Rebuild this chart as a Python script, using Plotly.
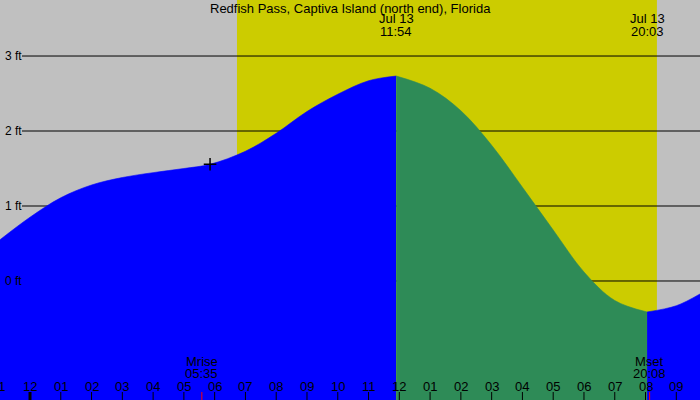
import plotly.graph_objects as go

# ---- data (hours since midnight Jul 13, feet) ----
tide_hours = [-0.975, 0.0, 1.0, 2.0, 3.0, 4.0, 5.0, 5.85, 7.0, 8.0, 9.0, 10.0, 11.0, 11.9,
              13.0, 14.0, 15.0, 16.0, 17.0, 18.0, 19.0, 20.05,
              21.0, 21.77]
tide_feet = [0.55, 0.85, 1.11, 1.28, 1.38, 1.445, 1.50, 1.556, 1.73, 1.97, 2.26, 2.49, 2.67, 2.733,
             2.57, 2.27, 1.81, 1.25, 0.68, 0.12, -0.26, -0.413,
             -0.33, -0.173]
high_tide = (11.9, "Jul 13", "11:54")
low_tide = (20.05, "Jul 13", "20:03")
sunrise, sunset = 6.725, 20.37
moonrise = (5.583, "Mrise", "05:35")
moonset = (20.133, "Mset", "20:08")
marker_pt = (5.85, 1.556)
ft_levels = [0, 1, 2, 3]
ft_labels = ["0 ft", "1 ft", "2 ft", "3 ft"]
hour_ticks = list(range(-1, 22))
hour_labels = ["11", "12", "01", "02", "03", "04", "05", "06", "07", "08", "09", "10", "11",
               "12", "01", "02", "03", "04", "05", "06", "07", "08", "09"]
title = "Redfish Pass, Captiva Island (north end), Florida"

# ---- styling ----
W, H = 700, 400
XMIN, XMAX = -0.975, 21.77
YMIN, YMAX = -1.587, 3.747
GRAY = "#c0c0c0"
YELLOW = "#cccc00"
BLUE = "#0000ff"
GREEN = "#2e8b57"
FONT = "Liberation Sans"

def py(px):  # pixel from top -> paper fraction
    return 1 - px / H

def xpaper(h):
    return (h - XMIN) / (XMAX - XMIN)

fig = go.Figure()

def segment(t0, t1, color):
    xs = [t for t in tide_hours if t0 <= t <= t1]
    ys = [h for t, h in zip(tide_hours, tide_feet) if t0 <= t <= t1]
    fig.add_trace(go.Scatter(x=[xs[0], xs[-1]], y=[YMIN - 0.2, YMIN - 0.2], mode="lines",
                             line=dict(width=0, color=color), hoverinfo="skip", showlegend=False))
    fig.add_trace(go.Scatter(x=xs, y=ys, mode="lines", line=dict(width=0.6, color=color, shape="spline"),
                             fill="tonexty", fillcolor=color, hoverinfo="skip", showlegend=False))

segment(tide_hours[0], high_tide[0], BLUE)
segment(high_tide[0], low_tide[0], GREEN)
segment(low_tide[0], tide_hours[-1], BLUE)

# marker
fig.add_trace(go.Scatter(x=[marker_pt[0]], y=[marker_pt[1]], mode="markers",
                         marker=dict(symbol="cross-thin", size=9, line=dict(width=1.5, color="black")),
                         showlegend=False, hoverinfo="skip"))

shapes = []
# daylight
shapes.append(dict(type="rect", xref="x", yref="paper", x0=sunrise, x1=sunset, y0=0, y1=1,
                   fillcolor=YELLOW, line=dict(width=0), layer="below"))
# level lines
for lv in ft_levels:
    shapes.append(dict(type="line", xref="paper", yref="y", x0=22 / W, x1=1, y0=lv, y1=lv,
                       line=dict(color="black", width=1), layer="below"))
# hour ticks
for h in hour_ticks:
    wide = (h % 24 == 0)
    shapes.append(dict(type="line", xref="x", yref="paper", x0=h, x1=h, y0=0, y1=py(392),
                       line=dict(color="black", width=3 if wide else 1), layer="above"))
for m in (moonrise, moonset):
    shapes.append(dict(type="line", xref="x", yref="paper", x0=m[0], x1=m[0], y0=0, y1=py(392),
                       line=dict(color="red", width=1), layer="above"))

ann = []
fnt = dict(family=FONT, size=13, color="black")
fnt12 = dict(family=FONT, size=12, color="black")
ann.append(dict(text=title, xref="paper", yref="paper", x=0.5, y=py(8), showarrow=False, font=fnt,
                xanchor="center", yanchor="middle"))
for ev in (high_tide, low_tide):
    ann.append(dict(text=ev[1], xref="x", yref="paper", x=ev[0], y=py(19), showarrow=False, font=fnt,
                    xanchor="center", yanchor="middle"))
    ann.append(dict(text=ev[2], xref="x", yref="paper", x=ev[0], y=py(31), showarrow=False, font=fnt,
                    xanchor="center", yanchor="middle"))
for ev in (moonrise, moonset):
    ann.append(dict(text=ev[1], xref="x", yref="paper", x=ev[0], y=py(361), showarrow=False, font=fnt,
                    xanchor="center", yanchor="middle"))
    ann.append(dict(text=ev[2], xref="x", yref="paper", x=ev[0], y=py(373), showarrow=False, font=fnt,
                    xanchor="center", yanchor="middle"))
for lv, lab in zip(ft_levels, ft_labels):
    ann.append(dict(text=lab, xref="paper", yref="y", x=3 / W, y=lv, showarrow=False, font=fnt12,
                    xanchor="left", yanchor="middle"))
for h, lab in zip(hour_ticks, hour_labels):
    ann.append(dict(text=lab, xref="paper", yref="paper", x=xpaper(h), y=py(386), showarrow=False,
                    font=fnt, xanchor="center", yanchor="middle"))

fig.update_layout(
    width=W, height=H, margin=dict(l=0, r=0, t=0, b=0),
    paper_bgcolor=GRAY, plot_bgcolor=GRAY,
    xaxis=dict(range=[XMIN, XMAX], visible=False, fixedrange=True),
    yaxis=dict(range=[YMIN, YMAX], visible=False, fixedrange=True),
    shapes=shapes, annotations=ann, showlegend=False,
)

fig.write_html("out.html", config={"displayModeBar": False})
